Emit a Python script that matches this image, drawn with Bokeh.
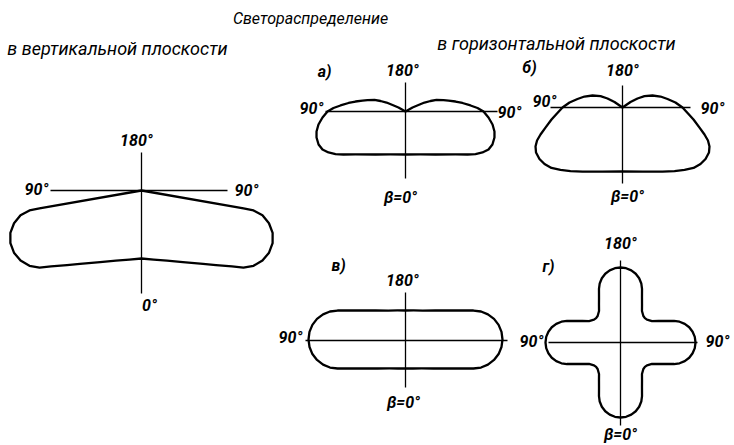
import numpy as np
from bokeh.plotting import figure
from bokeh.models import Range1d
from bokeh.embed import file_html
from bokeh.resources import INLINE
from bokeh.core.properties import value

# ---------------- data: light distribution curves (polar) ----------------
# beta in degrees: 0 = downwards (β=0°), 90 = sideways, 180 = upwards
# intensities in relative units (right half, mirrored for the left half)

# vertical plane
beta_vert = [0, 10, 20, 30, 40, 45, 50, 52.9, 56.1, 59.9, 64.0, 68.1, 72.1, 75.6, 78.4, 79.9, 80.0, 80.0, 180]
I_vert = [68, 70.1, 74.7, 82.7, 95.8, 105.4, 118.1, 127.8, 135.0, 139.8, 141.9, 141.3, 137.8, 131.6, 123.5, 113.8, 103.6, 0, 0]

# horizontal plane a)
beta_a = [0, 19.2, 34.9, 49.3, 55.3, 58.7, 62.0, 65.4, 69.2, 73.7, 77.3, 81.5, 85.9, 90,
          92.8, 95.3, 98.5, 101.3, 104.3, 106.8, 110.4, 112.8, 115.3, 116.6, 119.7, 122, 180]
I_a = [43, 45.5, 52.4, 65.9, 75.5, 81.9, 87.2, 91.3, 93.0, 92.7, 91.2, 88.0, 83.2, 78,
       72.1, 65.3, 57.6, 51.0, 44.4, 39.7, 33.1, 27.1, 21.0, 14.5, 8.1, 0, 0]

# horizontal plane б)
beta_b = [0, 17.4, 32.0, 39.3, 44.8, 49.6, 54.1, 58.2, 62.5, 65.9, 68.9, 71.8, 75.4, 80.4, 84.8, 90,
          95.4, 100.7, 106.1, 111.8, 117.2, 121.0, 124.5, 127, 180]
I_b = [64, 67.1, 75.5, 82.1, 88.0, 93.3, 96.3, 97.7, 97.5, 95.3, 91.6, 86.3, 79.6, 72.0, 65.8, 60,
       53.2, 45.8, 39.6, 32.3, 24.7, 17.5, 9.7, 0, 0]

# horizontal plane в)
beta_v = [0, 15, 30, 45, 55, 60, 65, 67.6, 70.3, 73.7, 77.6, 81.7, 86.1, 90.6, 95.1, 99.5,
          103.7, 107.6, 111.0, 113.8, 116, 120, 125, 135, 150, 165, 180]
I_v = [28, 29.0, 32.3, 39.6, 48.8, 56.0, 66.3, 73.5, 80.2, 85.9, 90.6, 94.1, 96.2, 97.0, 96.4, 94.4,
       91.1, 86.5, 80.9, 74.3, 68.4, 60.0, 52.3, 42.4, 34.6, 31.1, 30.0]

# horizontal plane г) (one quarter, 0..90°)
beta_g = [0, 4.3, 8.5, 12.5, 16.2, 19.4, 21.9, 25.5, 29.5, 34.3, 40.8, 45, 49.2, 55.7,
          60.5, 64.5, 68.1, 70.6, 73.8, 77.5, 81.5, 85.7, 90]
I_g = [75, 74.5, 72.9, 70.4, 66.9, 62.6, 57.7, 49.9, 43.7, 38.1, 35.0, 34.5, 35.0, 38.1,
       43.7, 49.9, 57.7, 62.6, 66.9, 70.4, 72.9, 74.5, 75]

title_text = "Светораспределение"
vert_plane_text = "в вертикальной плоскости"
horiz_plane_text = "в горизонтальной плоскости"
panel_labels = ["а)", "б)", "в)", "г)"]
label_180 = "180°"
label_90 = "90°"
label_0_vert = "0°"
label_0 = "β=0°"

# ---------------- layout (page pixel coordinates) ----------------
W, H = 734, 445
SCALE = 1.0
diagrams = {
    "vert": dict(c=(141, 190), v=(152, 293), h=(50, 227)),
    "a": dict(c=(405, 111), v=(82, 178), h=(325, 497)),
    "b": dict(c=(622, 107), v=(85, 183), h=(550, 690)),
    "v": dict(c=(405, 340), v=(292, 387), h=(305, 507)),
    "g": dict(c=(620, 342), v=(260, 425), h=(548, 697)),
}


def full_curve(beta, I, c):
    b = np.radians(np.asarray(beta, float))
    r = np.asarray(I, float) * SCALE
    xr = c[0] + r * np.sin(b)
    yr = c[1] + r * np.cos(b)
    xl = c[0] - r[::-1] * np.sin(b[::-1])
    yl = c[1] + r[::-1] * np.cos(b[::-1])
    return np.concatenate([xr, xl]), np.concatenate([yr, yl])


def quarter_to_half(beta, I):
    bh = list(beta) + [180 - x for x in reversed(beta[:-1])]
    ih = list(I) + list(reversed(I[:-1]))
    return bh, ih


p = figure(width=W, height=H, x_range=Range1d(0, W), y_range=Range1d(H, 0),
           output_backend="svg", toolbar_location=None, min_border=0,
           x_axis_type=None, y_axis_type=None)
p.grid.visible = False
p.outline_line_color = None
p.background_fill_color = "white"
p.border_fill_color = "white"

# axes of each diagram
for d in diagrams.values():
    cx, cy = d["c"]
    p.line([cx, cx], list(d["v"]), line_color="black", line_width=1.3)
    p.line(list(d["h"]), [cy, cy], line_color="black", line_width=1.3)

bg, ig = quarter_to_half(beta_g, I_g)
curves = [
    (beta_vert, I_vert, "vert"),
    (beta_a, I_a, "a"),
    (beta_b, I_b, "b"),
    (beta_v, I_v, "v"),
    (bg, ig, "g"),
]
for beta, I, key in curves:
    xs, ys = full_curve(beta, I, diagrams[key]["c"])
    p.line(xs, ys, line_color="black", line_width=2.3, line_join="round")

FONT = value("Roboto")
common = dict(text_font=FONT, text_color="black",
              text_align="center", text_baseline="middle")

# headings
p.text(x=[310], y=[18], text=[title_text], text_font_size="16px",
       text_font_style="italic", **common)
p.text(x=[117], y=[48], text=[vert_plane_text], text_font_size="18px",
       text_font_style="italic", **common)
p.text(x=[556], y=[43], text=[horiz_plane_text], text_font_size="18px",
       text_font_style="italic", **common)

LAB = dict(text_font_size="16px", text_font_style="bold italic", **common)
# panel labels
p.text(x=[324, 529, 338, 548], y=[71, 67, 265, 266], text=panel_labels, **LAB)

# degree labels
p.text(x=[136, 402, 622, 402, 620], y=[140, 70, 70, 280, 243], text=[label_180] * 5, **LAB)
p.text(x=[36, 246, 311, 509, 544, 712, 290, 531, 717],
       y=[189, 190, 108, 112, 101, 108, 337, 341, 341], text=[label_90] * 9, **LAB)
p.text(x=[149], y=[305], text=[label_0_vert], **LAB)
p.text(x=[400, 627, 403, 620], y=[197, 196, 402, 434], text=[label_0] * 4, **LAB)

open("out.html", "w").write(file_html(p, INLINE))
